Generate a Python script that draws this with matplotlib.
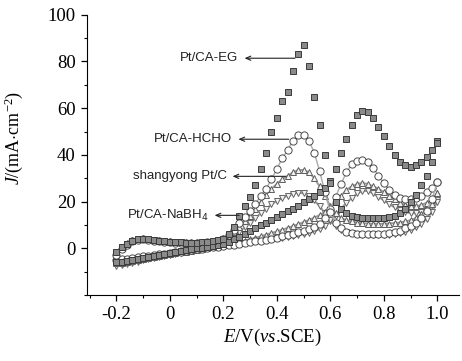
import numpy as np
import matplotlib
matplotlib.use("Agg")
import matplotlib.pyplot as plt
from matplotlib.ticker import MultipleLocator

# 电位网格 (V vs. SCE), 步长 0.02
E = np.round(np.linspace(-0.2, 1.0, 61), 2)

# Pt/CA-EG  正扫 / 反扫
eg_fwd = [-6.0, -5.7, -5.3, -4.9, -4.5, -4.1, -3.7, -3.3, -2.9, -2.5, -2.1,
          -1.7, -1.3, -0.9, -0.5, -0.1, 0.3, 0.7, 1.1, 1.5, 2.0,
          2.8, 3.8, 5.0, 6.2, 7.4, 8.6, 9.8, 11.0, 12.2, 13.4,
          14.6, 15.8, 17.0, 18.3, 19.6, 21.0, 22.5, 24.0, 26.0, 29.0,
          34.0, 41.0, 47.0, 53.0, 57.0, 59.0, 58.5, 56.0, 52.0, 48.0,
          44.0, 40.0, 37.0, 35.5, 35.0, 35.5, 37.0, 39.0, 42.0, 46.0]
eg_bwd = [-1.5, 0.5, 2.0, 3.2, 3.8, 4.0, 3.8, 3.5, 3.2, 3.0, 2.8,
          2.6, 2.5, 2.4, 2.4, 2.4, 2.5, 2.7, 3.0, 3.5, 4.0,
          6.0, 9.0, 14.0, 18.0, 22.0, 27.0, 34.0, 41.0, 50.0, 56.0,
          63.0, 67.0, 76.0, 83.0, 87.0, 78.0, 65.0, 53.0, 40.0, 28.0,
          20.0, 17.0, 15.0, 14.0, 13.5, 13.0, 13.0, 13.0, 13.0, 13.0,
          13.5, 14.0, 15.0, 17.0, 20.0, 23.0, 27.0, 31.0, 37.0, 45.0]

# Pt/CA-HCHO
hc_fwd = [-5.0, -4.7, -4.4, -4.1, -3.8, -3.5, -3.2, -2.9, -2.6, -2.3, -2.0,
          -1.7, -1.4, -1.1, -0.8, -0.5, -0.2, 0.1, 0.4, 0.7, 1.0,
          1.3, 1.6, 1.9, 2.2, 2.5, 2.9, 3.3, 3.7, 4.1, 4.6,
          5.1, 5.6, 6.2, 6.8, 7.5, 8.3, 9.3, 10.6, 13.0, 17.0,
          22.0, 27.5, 32.5, 36.0, 37.5, 38.0, 37.0, 34.5, 31.0, 28.0,
          25.0, 23.0, 21.5, 21.0, 21.0, 21.5, 22.5, 24.0, 26.0, 28.5]
hc_bwd = [-3.0, -0.5, 1.5, 3.0, 3.6, 3.8, 3.6, 3.3, 3.0, 2.8, 2.6,
          2.4, 2.3, 2.2, 2.2, 2.2, 2.3, 2.5, 2.8, 3.3, 4.0,
          5.5, 8.0, 11.0, 13.5, 16.0, 19.0, 22.5, 25.5, 29.5, 34.0,
          38.5, 42.0, 46.0, 48.5, 48.5, 46.0, 41.0, 33.0, 24.0, 15.5,
          11.0, 8.5, 7.0, 6.5, 6.2, 6.0, 6.0, 6.0, 6.0, 6.2,
          6.5, 7.0, 7.5, 8.5, 9.5, 11.0, 13.0, 16.0, 21.0, 28.5]

# shangyong Pt/C
sy_fwd = [-6.5, -6.2, -5.8, -5.4, -5.0, -4.6, -4.2, -3.8, -3.4, -3.0, -2.6,
          -2.2, -1.8, -1.4, -1.0, -0.6, -0.2, 0.2, 0.6, 1.0, 1.4,
          1.8, 2.3, 2.8, 3.3, 3.9, 4.5, 5.1, 5.8, 6.5, 7.2,
          7.9, 8.7, 9.5, 10.3, 11.2, 12.1, 13.1, 14.2, 15.5, 17.5,
          20.0, 22.5, 25.0, 26.5, 27.5, 28.0, 27.5, 26.5, 25.5, 24.0,
          22.5, 21.0, 19.5, 18.5, 18.0, 18.0, 18.5, 19.5, 21.0, 23.5]
sy_bwd = [-2.0, 0.5, 2.2, 3.4, 4.0, 4.2, 4.0, 3.7, 3.4, 3.1, 2.9,
          2.7, 2.6, 2.5, 2.5, 2.5, 2.6, 2.8, 3.1, 3.6, 4.3,
          5.5, 7.0, 9.0, 11.5, 14.0, 17.0, 20.0, 23.0, 25.5, 27.5,
          29.5, 31.0, 32.5, 33.5, 33.5, 32.5, 30.0, 26.5, 22.5, 18.0,
          15.0, 13.0, 12.0, 11.5, 11.0, 10.8, 10.6, 10.5, 10.5, 10.5,
          10.6, 10.8, 11.0, 11.5, 12.0, 13.0, 14.5, 16.5, 19.0, 23.5]

# Pt/CA-NaBH4
nb_fwd = [-7.5, -7.1, -6.7, -6.2, -5.7, -5.2, -4.7, -4.2, -3.7, -3.2, -2.8,
          -2.4, -2.0, -1.6, -1.2, -0.8, -0.4, 0.0, 0.4, 0.8, 1.2,
          1.5, 1.8, 2.1, 2.4, 2.7, 3.0, 3.3, 3.6, 3.9, 4.2,
          4.5, 4.8, 5.2, 5.6, 6.0, 6.6, 7.3, 8.2, 9.5, 11.5,
          14.0, 17.0, 19.5, 21.5, 23.5, 24.5, 24.5, 23.5, 22.0, 20.5,
          19.0, 17.5, 16.5, 15.5, 15.0, 15.0, 15.5, 16.5, 18.0, 20.5]
nb_bwd = [-2.5, 0.0, 1.8, 3.0, 3.6, 3.8, 3.6, 3.3, 3.0, 2.8, 2.6,
          2.4, 2.3, 2.2, 2.2, 2.2, 2.3, 2.5, 2.8, 3.2, 3.8,
          4.6, 5.5, 7.0, 9.0, 11.0, 13.0, 15.0, 17.0, 18.8, 20.3,
          21.5, 22.5, 23.3, 23.8, 23.5, 22.5, 20.5, 18.0, 15.0, 12.0,
          9.5, 8.0, 7.0, 6.5, 6.0, 5.8, 5.6, 5.5, 5.5, 5.6,
          5.8, 6.0, 6.5, 7.0, 8.0, 9.0, 10.5, 12.5, 15.5, 20.0]

# 标注: 文字, 箭头尾部 (曲线处), 箭头头部 (文字处), 高度
labels = ["Pt/CA-EG", "Pt/CA-HCHO", "shangyong Pt/C", "Pt/CA-NaBH$_4$"]
arrow_tail = [0.478, 0.455, 0.444, 0.269]
arrow_head = [0.269, 0.246, 0.224, 0.157]
arrow_y = [81.4, 46.7, 30.8, 14.1]

x_ticks = [-0.2, 0.0, 0.2, 0.4, 0.6, 0.8, 1.0]
x_ticklabels = ["-0.2", "0", "0.2", "0.4", "0.6", "0.8", "1.0"]
y_ticks = [0, 20, 40, 60, 80, 100]

plt.rcParams['font.family'] = ['Liberation Serif', 'DejaVu Serif']
plt.rcParams['mathtext.fontset'] = 'custom'
plt.rcParams['mathtext.rm'] = 'Liberation Serif'
plt.rcParams['mathtext.it'] = 'Liberation Serif:italic'

fig = plt.figure(figsize=(4.62, 3.61), dpi=100)
ax = fig.add_axes([0.188, 0.183, 0.805, 0.776])

## 曲线 (三角 -> 圆 -> 方块, 方块在最上层); 细线让扫描点看起来更连续
for y in (nb_fwd, nb_bwd):
    ax.plot(E, y, ls='-', lw=1.4, color='#9a9a9a', marker='v', ms=4.0,
            mfc='#f2f2f2', mec='#666666', mew=0.7)
for y in (sy_fwd, sy_bwd):
    ax.plot(E, y, ls='-', lw=1.4, color='#9a9a9a', marker='^', ms=4.0,
            mfc='#f2f2f2', mec='#5e5e5e', mew=0.7)
for y in (hc_fwd, hc_bwd):
    ax.plot(E, y, ls='-', lw=1.0, color='#aaaaaa', marker='o', ms=5.2,
            mfc='white', mec='#4a4a4a', mew=0.7)
for y in (eg_fwd, eg_bwd):
    ax.plot(E, y, ls='none', marker='s', ms=4.0, mfc='#8a8a8a', mec='#3a3a3a', mew=0.7)

## 标注箭头
for txt, xt, xh, yy in zip(labels, arrow_tail, arrow_head, arrow_y):
    ax.annotate('', xy=(xh, yy), xytext=(xt, yy),
                arrowprops=dict(arrowstyle='->,head_length=0.35,head_width=0.15',
                                color='#222222', lw=0.8))
    ax.text(xh - 0.012, yy, txt, ha='right', va='center', fontsize=9.5,
            family='Liberation Sans', math_fontfamily='dejavusans', color='#222222')

ax.set_xlim(-0.31, 1.08)
ax.set_ylim(-20, 100)
ax.set_xticks(x_ticks)
ax.set_xticklabels(x_ticklabels)
ax.xaxis.set_minor_locator(MultipleLocator(0.1))
ax.set_yticks(y_ticks)
ax.yaxis.set_minor_locator(MultipleLocator(10))

ax.spines['top'].set_visible(False)
ax.spines['right'].set_visible(False)
ax.tick_params(which='major', direction='out', length=4, width=0.9, labelsize=13.5, pad=4)
ax.tick_params(which='minor', direction='out', length=2.5, width=0.8)

ax.set_xlabel(r'$E$/V($vs$.SCE)', fontsize=13.5)
ax.xaxis.set_label_coords(0.5, -0.115)
ax.set_ylabel(r'$J$/(mA$\cdot$cm$^{-2}$)', fontsize=13)
ax.yaxis.set_label_coords(-0.165, 0.56)

fig.savefig('out.png', dpi=100)
